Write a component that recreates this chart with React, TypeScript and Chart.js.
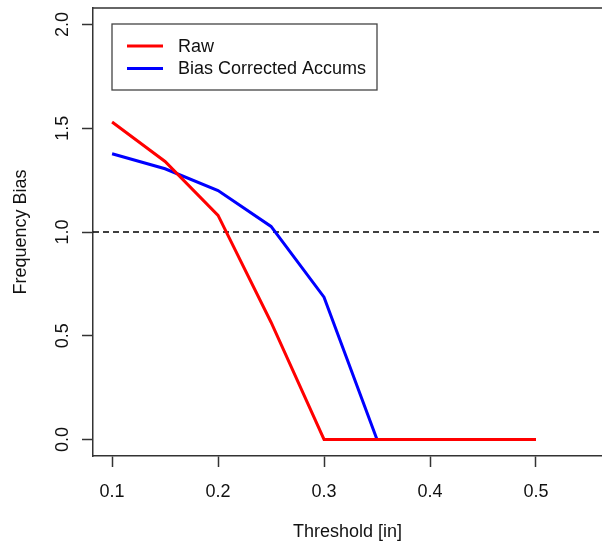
import React, { useEffect, useRef } from "react";
import { Chart, registerables } from "chart.js";

Chart.register(...registerables);

const THRESHOLDS = [0.1, 0.15, 0.2, 0.25, 0.3, 0.35, 0.4, 0.45, 0.5];
const RAW = [1.53, 1.34, 1.08, 0.565, 0, 0, 0, 0, 0];
const CORRECTED = [1.377, 1.305, 1.2, 1.027, 0.686, 0, 0, 0, 0];
const SERIES_LABELS = ["Raw", "Bias Corrected Accums"];
const X_TICKS = [0.1, 0.2, 0.3, 0.4, 0.5];
const Y_TICKS = [0, 0.5, 1, 1.5, 2];
const Y_TICK_LABELS = ["0.0", "0.5", "1.0", "1.5", "2.0"];
const REFERENCE_LEVEL = 1;
const X_TITLE = "Threshold [in]";
const Y_TITLE = "Frequency Bias";

const FONT = "'Liberation Sans', Arial, sans-serif";
const AXIS_COLOR = "#333";

const rPlotPlugin = {
  id: "rPlot",
  beforeDatasetsDraw(chart: any) {
    const { ctx, chartArea } = chart;
    const y = chart.scales.y;
    const yp = y.getPixelForValue(REFERENCE_LEVEL);
    ctx.save();
    ctx.strokeStyle = "#000";
    ctx.lineWidth = 1.5;
    ctx.setLineDash([6, 4]);
    ctx.beginPath();
    ctx.moveTo(chartArea.left, yp);
    ctx.lineTo(chartArea.right, yp);
    ctx.stroke();
    ctx.restore();
  },
  afterDraw(chart: any) {
    const { ctx, chartArea } = chart;
    const y = chart.scales.y;
    ctx.save();
    // top border
    ctx.strokeStyle = AXIS_COLOR;
    ctx.lineWidth = 1.5;
    ctx.beginPath();
    ctx.moveTo(chartArea.left, chartArea.top);
    ctx.lineTo(chartArea.right, chartArea.top);
    ctx.stroke();
    // rotated y tick labels
    ctx.fillStyle = "#111";
    ctx.font = `18px ${FONT}`;
    ctx.textAlign = "center";
    ctx.textBaseline = "alphabetic";
    Y_TICKS.forEach((v, i) => {
      const py = y.getPixelForValue(v);
      ctx.save();
      ctx.translate(68, py);
      ctx.rotate(-Math.PI / 2);
      ctx.fillText(Y_TICK_LABELS[i], 0, 0);
      ctx.restore();
    });
    // legend
    const bx = chartArea.left + 19;
    const by = chartArea.top + 16;
    const bw = 265;
    const bh = 66;
    ctx.fillStyle = "#fff";
    ctx.fillRect(bx, by, bw, bh);
    ctx.strokeStyle = "#444";
    ctx.lineWidth = 1.3;
    ctx.strokeRect(bx, by, bw, bh);
    chart.data.datasets.forEach((ds: any, i: number) => {
      const ly = by + 22 + i * 22.5;
      ctx.strokeStyle = ds.borderColor;
      ctx.lineWidth = 3;
      ctx.beginPath();
      ctx.moveTo(bx + 15, ly);
      ctx.lineTo(bx + 51, ly);
      ctx.stroke();
      ctx.fillStyle = "#111";
      ctx.textAlign = "left";
      ctx.textBaseline = "middle";
      ctx.font = `18px ${FONT}`;
      ctx.fillText(ds.label, bx + 66, ly + 1);
    });
    ctx.restore();
  },
};

export default function App() {
  const ref = useRef<HTMLCanvasElement>(null);
  useEffect(() => {
    document.body.style.margin = "0";
    const toPoints = (vals: number[]) => THRESHOLDS.map((x, i) => ({ x, y: vals[i] }));
    const chart = new Chart(ref.current as HTMLCanvasElement, {
      type: "line",
      data: {
        datasets: [
          {
            label: SERIES_LABELS[0],
            data: toPoints(RAW),
            borderColor: "#ff0000",
            borderWidth: 3,
            pointRadius: 0,
            tension: 0,
            fill: false,
          },
          {
            label: SERIES_LABELS[1],
            data: toPoints(CORRECTED),
            borderColor: "#0000ff",
            borderWidth: 3,
            pointRadius: 0,
            tension: 0,
            fill: false,
          },
        ],
      },
      options: {
        animation: false,
        responsive: false,
        events: [],
        layout: { padding: { top: 8, right: 0, left: 0, bottom: 0 } },
        plugins: { legend: { display: false }, tooltip: { enabled: false } },
        scales: {
          x: {
            type: "linear",
            min: 0.082,
            max: 0.5623,
            afterBuildTicks: (s: any) => {
              s.ticks = X_TICKS.map((v) => ({ value: v }));
            },
            afterFit: (s: any) => {
              s.height = 88;
              s.paddingLeft = 0;
              s.paddingRight = 0;
            },
            border: { display: true, color: AXIS_COLOR, width: 1.5 },
            grid: {
              drawOnChartArea: false,
              drawTicks: true,
              tickLength: 11,
              tickColor: AXIS_COLOR,
              tickWidth: 1.5,
            },
            ticks: {
              autoSkip: false,
              maxRotation: 0,
              minRotation: 0,
              padding: 14,
              color: "#111",
              font: { family: FONT, size: 18 },
              callback: (v: any) => Number(v).toFixed(1),
            },
            title: {
              display: true,
              text: X_TITLE,
              color: "#111",
              font: { family: FONT, size: 18 },
              padding: { top: 0, bottom: 1 },
            },
          },
          y: {
            type: "linear",
            min: -0.08,
            max: 2.08,
            afterBuildTicks: (s: any) => {
              s.ticks = Y_TICKS.map((v) => ({ value: v }));
            },
            afterFit: (s: any) => {
              s.width = 93;
            },
            border: { display: true, color: AXIS_COLOR, width: 1.5 },
            grid: {
              drawOnChartArea: false,
              drawTicks: true,
              tickLength: 11,
              tickColor: AXIS_COLOR,
              tickWidth: 1.5,
            },
            ticks: { display: false },
            title: {
              display: true,
              text: Y_TITLE,
              color: "#111",
              font: { family: FONT, size: 18 },
              padding: { top: 10, bottom: 0 },
            },
          },
        },
      },
      plugins: [rPlotPlugin],
    } as any);
    return () => chart.destroy();
  }, []);
  return (
    <div style={{ width: 602, height: 544, background: "#fff" }}>
      <canvas ref={ref} width={602} height={544} style={{ display: "block" }} />
    </div>
  );
}
